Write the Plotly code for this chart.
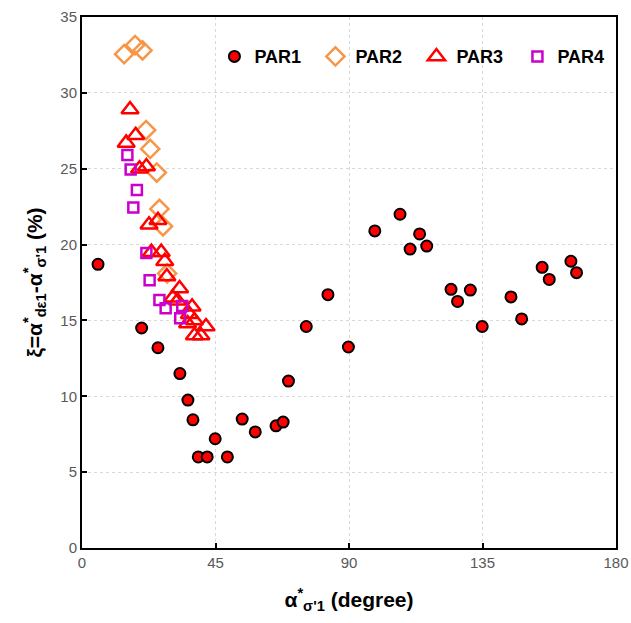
import plotly.graph_objects as go

# PAR1 (filled red circles)
par1_x = [5.4, 20.1, 25.6, 33.0, 35.7, 37.4, 39.2, 42.2, 44.9, 49.0, 54.0, 58.4, 65.4, 67.8, 69.6,
          75.6, 82.9, 89.8, 98.7, 107.2, 110.6, 113.8, 116.2, 124.4, 126.6, 130.9, 134.9,
          144.6, 148.2, 155.1, 157.5, 164.8, 166.7]
par1_y = [18.7, 14.5, 13.2, 11.5, 9.75, 8.45, 6.0, 6.0, 7.2, 6.0, 8.5, 7.65, 8.05, 8.3, 11.0,
          14.6, 16.7, 13.25, 20.9, 22.0, 19.7, 20.7, 19.9, 17.05, 16.25, 17.0, 14.6,
          16.55, 15.1, 18.5, 17.7, 18.9, 18.15]

# PAR2 (open orange diamonds)
par2_x = [14.2, 17.9, 20.4, 21.6, 23.0, 25.2, 26.1, 27.3, 28.7]
par2_y = [32.55, 33.15, 32.8, 27.55, 26.3, 24.75, 22.35, 21.2, 18.1]

# PAR3 (open red triangles)
par3_x = [16.2, 18.1, 14.9, 19.4, 21.7, 25.6, 22.6, 23.4, 26.7, 27.9, 28.6, 32.9, 30.6,
          32.2, 37.1, 36.2, 37.9, 35.6, 41.8, 40.1, 37.9]
par3_y = [28.9, 27.2, 26.7, 25.0, 25.15, 21.6, 21.3, 19.5, 19.5, 18.9, 17.9, 17.1, 16.5,
          16.3, 15.9, 15.4, 15.0, 14.8, 14.6, 14.0, 14.0]

# PAR4 (open magenta squares)
par4_x = [15.3, 16.4, 18.5, 17.3, 21.7, 22.8, 26.1, 28.2, 33.8, 33.1]
par4_y = [25.9, 24.95, 23.6, 22.45, 19.45, 17.65, 16.35, 15.8, 15.95, 15.15]

x_ticks = [0, 45, 90, 135, 180]
y_ticks = [0, 5, 10, 15, 20, 25, 30, 35]

fig = go.Figure()
fig.add_trace(go.Scatter(x=par1_x, y=par1_y, mode="markers", name="PAR1",
                         marker=dict(symbol="circle", size=11, color="#FF0000",
                                     line=dict(color="black", width=2))))
fig.add_trace(go.Scatter(x=par2_x, y=par2_y, mode="markers", name="PAR2",
                         marker=dict(symbol="diamond-open", size=14, color="#F79646",
                                     line=dict(color="#F79646", width=2.5))))
fig.add_trace(go.Scatter(x=par3_x, y=par3_y, mode="markers", name="PAR3",
                         marker=dict(symbol="triangle-up-open", size=15, color="#FF0000",
                                     line=dict(color="#FF0000", width=2.5))))
fig.add_trace(go.Scatter(x=par4_x, y=par4_y, mode="markers", name="PAR4",
                         marker=dict(symbol="square-open", size=10, color="#CC00CC",
                                     line=dict(color="#CC00CC", width=2.5))))

fig.update_layout(
    width=631, height=623,
    margin=dict(l=82, r=15, t=17, b=75, autoexpand=False),
    plot_bgcolor="white", paper_bgcolor="white",
    font=dict(family="Liberation Sans, Arial, sans-serif"),
    showlegend=True,
    legend=dict(orientation="h", x=0.248, xanchor="left", y=0.96, yanchor="top",
                bgcolor="rgba(0,0,0,0)", entrywidth=56, entrywidthmode="pixels",
                itemsizing="trace", itemwidth=30,
                font=dict(size=18, color="black", weight="bold",
                          family="Liberation Sans, Arial, sans-serif")),
)
fig.update_xaxes(
    range=[0, 180], tickvals=x_ticks, ticktext=[str(v) for v in x_ticks],
    showgrid=True, gridcolor="#D9D9D9", griddash="dot", gridwidth=1,
    showline=True, linecolor="black", linewidth=2, mirror=True,
    ticks="inside", ticklen=5, tickcolor="black", tickwidth=1.5,
    tickfont=dict(size=15, color="#595959"), zeroline=False, automargin=False,
    title=dict(text="<b>α<sup>*</sup><sub>σ'1</sub> (degree)</b>", font=dict(size=21, color="black"),
               standoff=22),
)
fig.update_yaxes(
    range=[0, 35], tickvals=y_ticks, ticktext=[str(v) for v in y_ticks],
    showgrid=True, gridcolor="#D9D9D9", griddash="dot", gridwidth=1,
    showline=True, linecolor="black", linewidth=2, mirror=True,
    ticks="inside", ticklen=5, tickcolor="black", tickwidth=1.5,
    tickfont=dict(size=15, color="#595959"), zeroline=False, automargin=False,
    title=dict(text="<b>ξ=α<sup>*</sup><sub>dε1</sub>-α<sup>*</sup><sub>σ'1</sub> (%)</b>",
               font=dict(size=21, color="black"), standoff=12),
)

fig.write_html("out.html")
